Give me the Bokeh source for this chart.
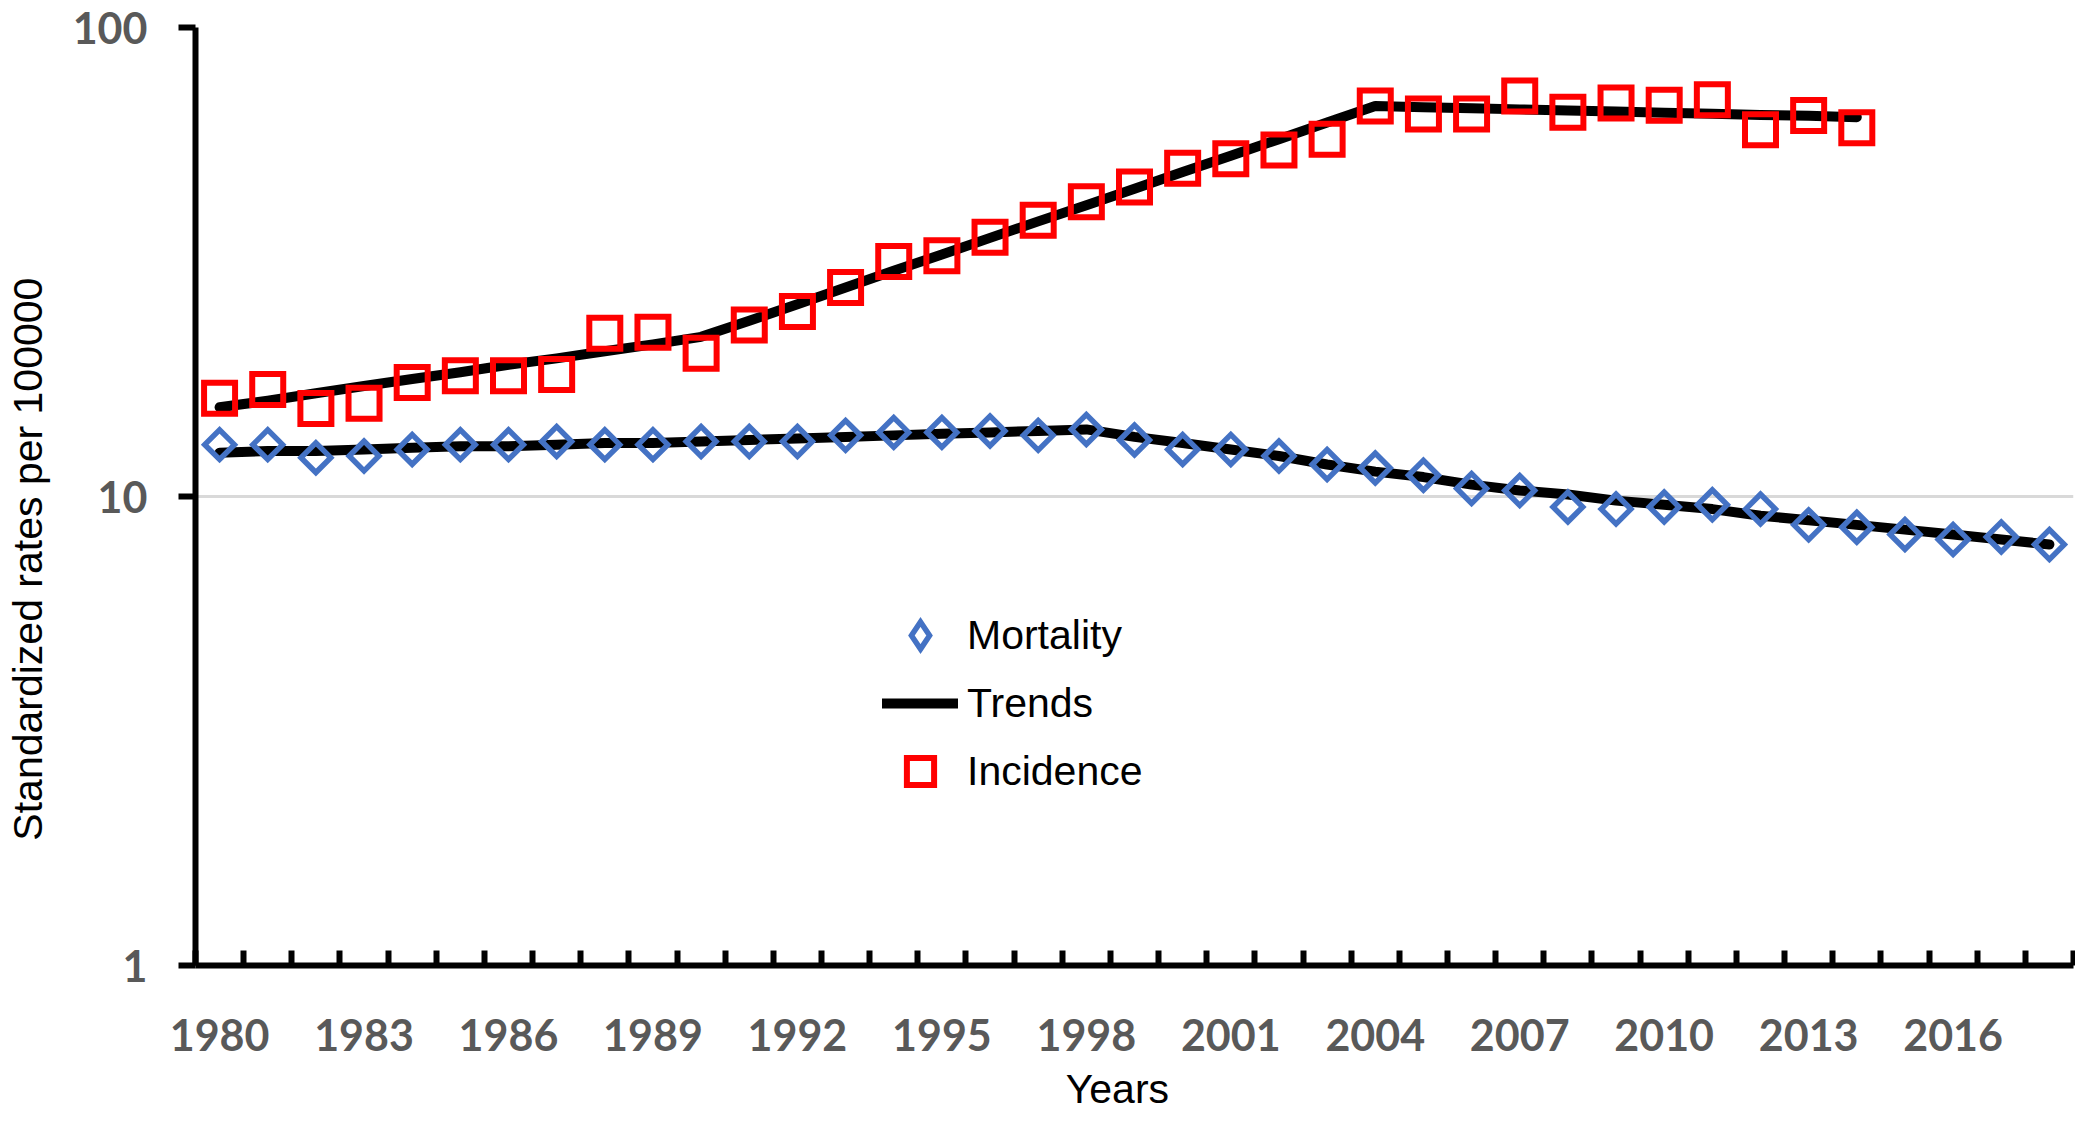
import math
from bokeh.plotting import figure
from bokeh.models import (Range1d, FixedTicker, BasicTickFormatter, Legend,
                          LegendItem)
from bokeh.embed import file_html
from bokeh.resources import INLINE

# ---------------- data ----------------
years = list(range(1980, 2019))
mortality = [12.9, 12.9, 12.1, 12.2, 12.6, 12.9, 12.9, 13.1, 12.9, 12.9,
             13.1, 13.1, 13.1, 13.5, 13.7, 13.7, 13.8, 13.5, 13.9, 13.2,
             12.6, 12.6, 12.2, 11.7, 11.5, 11.1, 10.4, 10.3, 9.5, 9.4,
             9.5, 9.6, 9.4, 8.7, 8.6, 8.3, 8.1, 8.2, 7.9]
mortality_trend = [12.4, 12.5, 12.5, 12.6, 12.7, 12.8, 12.8, 12.9, 13.0, 13.0,
                   13.1, 13.2, 13.3, 13.4, 13.5, 13.6, 13.7, 13.8, 13.9, 13.4,
                   13.0, 12.6, 12.2, 11.7, 11.3, 11.0, 10.6, 10.3, 10.1, 9.8,
                   9.6, 9.4, 9.1, 8.9, 8.7, 8.5, 8.3, 8.1, 7.9]

incidence_years = list(range(1980, 2015))
incidence = [16.2, 16.9, 15.4, 15.8, 17.5, 18.1, 18.1, 18.2, 22.3, 22.4,
             20.2, 23.2, 24.8, 27.9, 31.7, 32.6, 35.7, 38.8, 42.5, 45.7,
             50.1, 52.5, 54.8, 57.8, 68.0, 65.4, 65.4, 71.4, 66.0, 69.0,
             68.3, 70.1, 60.5, 64.9, 61.1]
incidence_trend = [15.5, 16.0, 16.6, 17.2, 17.8, 18.4, 19.1, 19.7, 20.4, 21.1,
                   21.9, 23.7, 25.7, 27.9, 30.3, 32.8, 35.6, 38.6, 41.8, 45.3,
                   49.2, 53.3, 57.8, 62.7, 68.0, 67.6, 67.3, 66.9, 66.5, 66.2,
                   65.8, 65.5, 65.1, 64.8, 64.4]

x_tick_years = list(range(1980, 2017, 3))
x_boundaries = [1979.5 + i for i in range(40)]
y_tick_values = [1, 10, 100]

y_title = "Standardized rates per 100000"
x_title = "Years"

# ---------------- styles ----------------
BLUE = "#4472C4"
RED = "#FF0000"
GRAY = "#595959"
NBSP = "\u00a0"

p = figure(width=2075, height=1114,
           x_range=Range1d(1979.5, 2018.5), y_range=Range1d(1, 100),
           y_axis_type="log", output_backend="svg", toolbar_location=None,
           min_border_left=195, min_border_right=2, min_border_top=27,
           min_border_bottom=148, outline_line_color=None)

# trend lines first (markers drawn over them)
trend_m = p.line(years, mortality_trend, line_color="black", line_width=10,
                 line_cap="round", line_join="round")
trend_i = p.line(incidence_years, incidence_trend, line_color="black",
                 line_width=10, line_cap="round", line_join="round")

mort = p.scatter(years, mortality, marker="square", angle=math.pi / 4,
                 size=21, line_color=BLUE, line_width=5.5, fill_color=None,
                 line_join="miter")
inc = p.scatter(incidence_years, incidence, marker="square", size=31,
                line_color=RED, line_width=6, fill_color=None,
                line_join="miter")
# legend swatch for the diamond symbol (zero size: draws nothing in the plot)
mort_key = p.scatter(years, mortality, marker="diamond", size=0,
                     line_color=BLUE, line_width=5.5, fill_color=None,
                     line_join="miter")

# ---------------- axes ----------------
xa = p.xaxis[0]
xa.ticker = FixedTicker(ticks=x_tick_years, minor_ticks=x_boundaries)
xa.formatter = BasicTickFormatter()
xa.axis_line_color = "black"
xa.axis_line_width = 6
xa.major_tick_in = 0
xa.major_tick_out = 0
xa.minor_tick_in = 15
xa.minor_tick_out = 0
xa.minor_tick_line_color = "black"
xa.minor_tick_line_width = 6
xa.major_label_text_font = "Lato"
xa.major_label_text_font_style = "bold"
xa.major_label_text_font_size = "43px"
xa.major_label_text_color = GRAY
xa.major_label_standoff = 53
xa.axis_label = x_title + NBSP * 3
xa.axis_label_text_font = "Liberation Sans"
xa.axis_label_text_font_style = "normal"
xa.axis_label_text_font_size = "41px"
xa.axis_label_text_color = "black"
xa.axis_label_standoff = 12

ya = p.yaxis[0]
ya.ticker = FixedTicker(ticks=y_tick_values)
ya.formatter = BasicTickFormatter()
ya.axis_line_color = "black"
ya.axis_line_width = 6
ya.major_tick_in = 0
ya.major_tick_out = 17
ya.major_tick_line_color = "black"
ya.major_tick_line_width = 6
ya.minor_tick_line_color = None
ya.major_label_text_font = "Lato"
ya.major_label_text_font_style = "bold"
ya.major_label_text_font_size = "43px"
ya.major_label_text_color = GRAY
ya.major_label_standoff = 31
ya.axis_label = y_title + NBSP * 11
ya.axis_label_text_font = "Liberation Sans"
ya.axis_label_text_font_style = "normal"
ya.axis_label_text_font_size = "41px"
ya.axis_label_text_color = "black"
ya.axis_label_standoff = 19

p.xgrid.visible = False
p.ygrid.grid_line_color = "#D9D9D9"
p.ygrid.grid_line_width = 3

# ---------------- legend ----------------
legend = Legend(items=[LegendItem(label="Mortality", renderers=[mort_key]),
                       LegendItem(label="Trends", renderers=[trend_i]),
                       LegendItem(label="Incidence", renderers=[inc])],
                location=(687, 160), glyph_width=76, glyph_height=68,
                spacing=0, padding=0, margin=0, label_standoff=9,
                label_text_font="Liberation Sans", label_text_font_size="41px",
                label_text_color="black", background_fill_alpha=0,
                border_line_alpha=0)
p.add_layout(legend)

open("out.html", "w").write(file_html(p, INLINE))
